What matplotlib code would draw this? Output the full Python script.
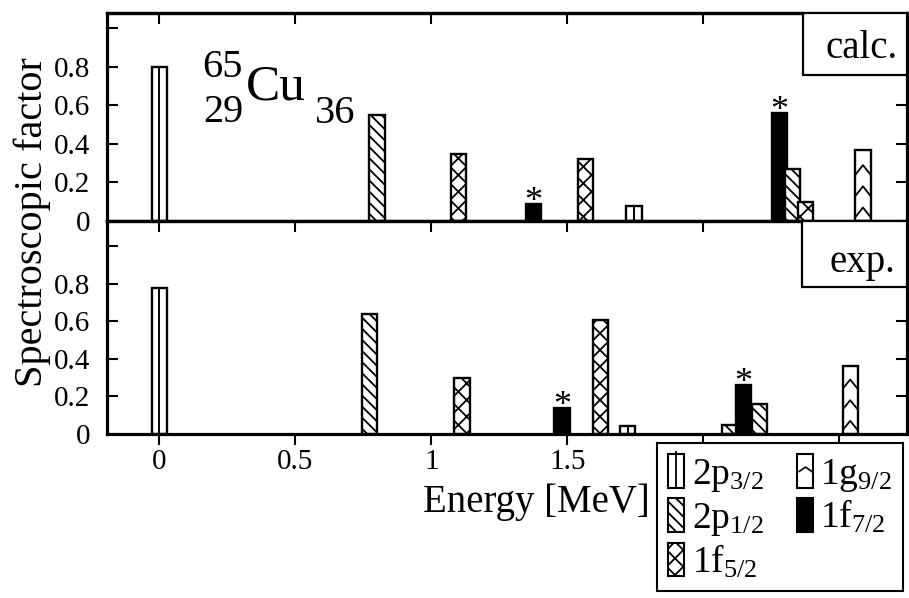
import matplotlib
matplotlib.use("Agg")
import matplotlib.pyplot as plt
from matplotlib.patches import Patch, Rectangle
from matplotlib.lines import Line2D
import numpy as np

plt.rcParams['font.family'] = ['Liberation Serif', 'DejaVu Serif']
plt.rcParams['mathtext.fontset'] = 'custom'
plt.rcParams['mathtext.rm'] = 'Liberation Serif'
plt.rcParams['mathtext.it'] = 'Liberation Serif:italic'
plt.rcParams['hatch.linewidth'] = 1.3

# calc. panel (energy in MeV, spectroscopic factor, orbital)
calc_energy = [0.0, 0.80, 1.10, 1.377, 1.567, 1.746, 2.280, 2.330, 2.377, 2.588]
calc_factor = [0.80, 0.55, 0.35, 0.09, 0.32, 0.08, 0.56, 0.27, 0.10, 0.37]
calc_orbital = ['2p3/2', '2p1/2', '1f5/2', '1f7/2', '1f5/2', '2p3/2',
                '1f7/2', '2p1/2', '1f5/2', '1g9/2']

# exp. panel
exp_energy = [0.0, 0.772, 1.113, 1.481, 1.622, 1.723, 2.096, 2.149, 2.206, 2.541]
exp_factor = [0.78, 0.64, 0.30, 0.14, 0.61, 0.04, 0.05, 0.26, 0.16, 0.36]
exp_orbital = ['2p3/2', '2p1/2', '1f5/2', '1f7/2', '1f5/2', '2p3/2',
               '2p1/2', '1f7/2', '2p1/2', '1g9/2']

orbitals = ['2p3/2', '2p1/2', '1f5/2', '1g9/2', '1f7/2']
orbital_labels = ['2p$_{3/2}$', '2p$_{1/2}$', '1f$_{5/2}$', '1g$_{9/2}$', '1f$_{7/2}$']

xticks = [0, 0.5, 1, 1.5, 2, 2.5]
# labels for 2 and 2.5 sit under the legend box in the original
xtick_labels = ['0', '0.5', '1', '1.5', '', '']
yticks = [0, 0.2, 0.4, 0.6, 0.8, 1.0]
ytick_labels = ['0', '0.2', '0.4', '0.6', '0.8', '']

bar_w = 0.056
styles = {
    '2p3/2': dict(fc='white', hatch=None),
    '2p1/2': dict(fc='white', hatch='\\\\\\'),
    '1f5/2': dict(fc='white', hatch='xx'),
    '1g9/2': dict(fc='white', hatch=None),
    '1f7/2': dict(fc='black', hatch=None),
}


def draw_panel(ax, energy, factor, orbital):
    for e, f, o in zip(energy, factor, orbital):
        st = styles[o]
        bar = ax.bar(e, f, width=bar_w, color=st['fc'], edgecolor='black',
                     linewidth=1.7, hatch=st['hatch'], zorder=2)[0]
        if o == '2p3/2':
            ax.vlines(e, 0, f, color='black', lw=1.4, zorder=3)
        elif o == '1g9/2':
            # chevrons
            for y in np.arange(0.02, f - 0.05, 0.11):
                ln, = ax.plot([e - bar_w / 2, e, e + bar_w / 2], [y, y + 0.05, y],
                              color='black', lw=1.3, zorder=3)
                ln.set_clip_path(bar)
        elif o == '1f7/2':
            ax.annotate('*', (e, f), xytext=(0, -5), textcoords='offset points',
                        ha='center', va='baseline', fontsize=26)


def style_axes(ax, ymax):
    ax.set_xlim(-0.193, 2.75)
    ax.set_ylim(0, ymax)
    ax.set_xticks(xticks)
    ax.set_xticklabels(xtick_labels)
    ax.set_yticks(yticks)
    ax.set_yticklabels(ytick_labels)
    ax.tick_params(axis='y', direction='in', right=True, length=8, width=1.5,
                   labelsize=21, pad=12)
    ax.tick_params(axis='x', direction='out', length=8, width=1.5,
                   labelsize=21, pad=3)
    for s in ax.spines.values():
        s.set_linewidth(2.3)
    sec = ax.secondary_xaxis('top')
    sec.set_xticks(xticks)
    sec.tick_params(direction='in', length=8, width=1.5, labeltop=False)
    sec.spines['top'].set_linewidth(2.3)


fig = plt.figure(figsize=(9.09, 5.98), dpi=100)
ax_top = fig.add_axes([107 / 909, 1 - 221 / 598, 800 / 909, 208 / 598])
ax_bot = fig.add_axes([107 / 909, 1 - 434 / 598, 800 / 909, 213 / 598])

draw_panel(ax_top, calc_energy, calc_factor, calc_orbital)
draw_panel(ax_bot, exp_energy, exp_factor, exp_orbital)
style_axes(ax_top, 1.08)
style_axes(ax_bot, 1.135)
ax_top.tick_params(labelbottom=False)

# calc. / exp. boxes
ax_top.add_patch(Rectangle((0.87, 0.70), 0.13, 0.30, transform=ax_top.transAxes,
                           fc='white', ec='black', lw=1.6, zorder=5))
ax_top.text(0.989, 0.784, 'calc.', transform=ax_top.transAxes, ha='right',
            va='baseline', fontsize=28, zorder=6)
ax_bot.add_patch(Rectangle((0.869, 0.69), 0.131, 0.31, transform=ax_bot.transAxes,
                           fc='white', ec='black', lw=1.6, zorder=5))
ax_bot.text(0.985, 0.76, 'exp.', transform=ax_bot.transAxes, ha='right',
            va='baseline', fontsize=28, zorder=6)

# nuclide label
fig.text(243 / 909, 1 - 77 / 598, '65', ha='right', va='baseline', fontsize=29)
fig.text(243 / 909, 1 - 122 / 598, '29', ha='right', va='baseline', fontsize=29)
fig.text(246 / 909, 1 - 100 / 598, 'Cu', ha='left', va='baseline', fontsize=37)
fig.text(315 / 909, 1 - 123 / 598, '36', ha='left', va='baseline', fontsize=29)

fig.text(32 / 909, 1 - 222 / 598, 'Spectroscopic factor', rotation=90,
         ha='center', va='center', fontsize=29)
fig.text(536 / 909, 1 - 512 / 598, 'Energy [MeV]', ha='center', va='baseline',
         fontsize=28)

# legend
chevron = [(-1, -0.35), (0, 0.35), (1, -0.35)]
handles = [
    (Patch(fc='white', ec='black', lw=1.5),
     Line2D([], [], color='black', marker='|', ms=26, mew=1.3, ls='none')),
    Patch(fc='white', ec='black', hatch=styles['2p1/2']['hatch'], lw=1.5),
    Patch(fc='white', ec='black', hatch=styles['1f5/2']['hatch'], lw=1.5),
    (Patch(fc='white', ec='black', lw=1.5),
     Line2D([], [], color='black', marker=chevron, ms=10, mew=1.2,
            mfc='none', ls='none')),
    Patch(fc='black', ec='black', lw=1.5),
]
leg = fig.legend(handles, orbital_labels, ncol=2, loc='upper left',
                 bbox_to_anchor=(657 / 909, 1 - 443 / 598), frameon=True,
                 fancybox=False, edgecolor='black', framealpha=1, fontsize=27,
                 handlelength=0.42, handleheight=1.0, handletextpad=0.2,
                 columnspacing=0.9, borderpad=0.3, labelspacing=0.12,
                 borderaxespad=0)
leg.get_frame().set_linewidth(1.5)

fig.savefig('out.png', dpi=100)
